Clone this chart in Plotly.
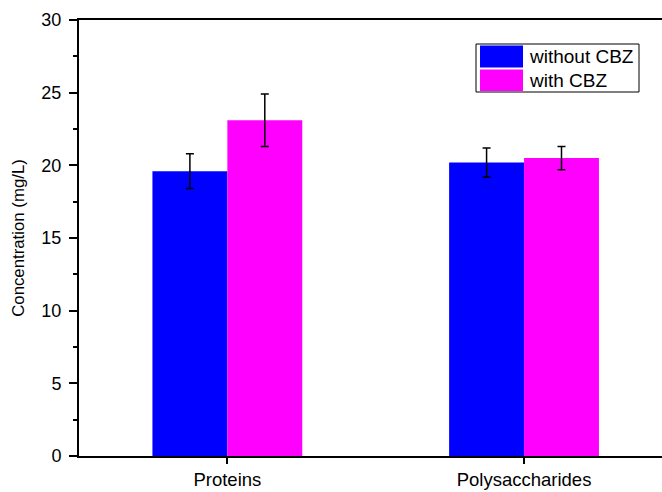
import plotly.graph_objects as go

categories = ["Proteins", "Polysaccharides"]
series_names = ["without CBZ", "with CBZ"]
without_cbz = [19.6, 20.2]
without_cbz_err = [1.2, 1.0]
with_cbz = [23.1, 20.5]
with_cbz_err = [1.8, 0.8]
colors = ["#0000FF", "#FF00FF"]
y_ticks = [0, 5, 10, 15, 20, 25, 30]

FONT = "Arial, 'Liberation Sans', sans-serif"

fig = go.Figure()
for name, vals, errs, col in [
    (series_names[0], without_cbz, without_cbz_err, colors[0]),
    (series_names[1], with_cbz, with_cbz_err, colors[1]),
]:
    fig.add_trace(go.Bar(
        name=name, x=categories, y=vals, marker=dict(color=col, line=dict(width=0)),
        error_y=dict(type="data", array=errs, visible=True, color="black", thickness=1.5, width=4),
        showlegend=False,
    ))

# Manual legend (large swatches like the original)
L, T, W, H = 79, 20, 583, 436
def px(x):
    return (x - L) / W
def py(y):
    return (T + H - y) / H

shapes = [
    dict(type="rect", xref="paper", yref="paper", x0=px(476), x1=px(639), y0=py(92), y1=py(44),
         line=dict(color="black", width=1), fillcolor="white", layer="above"),
    dict(type="rect", xref="paper", yref="paper", x0=px(480), x1=px(523), y0=py(67.5), y1=py(45.5),
         line=dict(width=0), fillcolor=colors[0], layer="above"),
    dict(type="rect", xref="paper", yref="paper", x0=px(480), x1=px(523), y0=py(91), y1=py(69.5),
         line=dict(width=0), fillcolor=colors[1], layer="above"),
]
annotations = [
    dict(xref="paper", yref="paper", x=px(527), y=py(56.5), text=series_names[0], showarrow=False,
         xanchor="left", yanchor="middle", font=dict(family=FONT, size=19, color="black")),
    dict(xref="paper", yref="paper", x=px(527), y=py(80.5), text=series_names[1], showarrow=False,
         xanchor="left", yanchor="middle", font=dict(family=FONT, size=19, color="black")),
]

fig.update_layout(
    width=662, height=492,
    margin=dict(l=79, r=0, t=20, b=36, autoexpand=False),
    paper_bgcolor="white", plot_bgcolor="white",
    barmode="group", bargap=0.495, bargroupgap=0,
    font=dict(family=FONT, size=18, color="black"),
    shapes=shapes, annotations=annotations,
    showlegend=False,
)
fig.update_xaxes(
    range=[-0.5, 1.465], showline=True, linecolor="black", linewidth=2, mirror=True,
    ticks="outside", ticklen=6, tickwidth=1.5, tickcolor="black", showgrid=False,
    tickfont=dict(family=FONT, size=18.5, color="black"),
)
fig.update_yaxes(
    range=[0, 30], tickvals=y_ticks, showline=True, linecolor="black", linewidth=2,
    ticks="outside", ticklen=8, tickwidth=1.5, tickcolor="black", showgrid=False, zeroline=False,
    minor=dict(dtick=2.5, ticks="outside", ticklen=4, tickwidth=1.5, tickcolor="black", showgrid=False),
    tickfont=dict(family=FONT, size=18, color="black"), ticklabelstandoff=4,
    title=dict(text="Concentration (mg/L)", font=dict(family=FONT, size=16.8, color="black"), standoff=12),
)

fig.write_html(
    "out.html",
    config={"displayModeBar": False},
    post_script="document.body.style.margin='0';document.body.style.padding='0';",
)
